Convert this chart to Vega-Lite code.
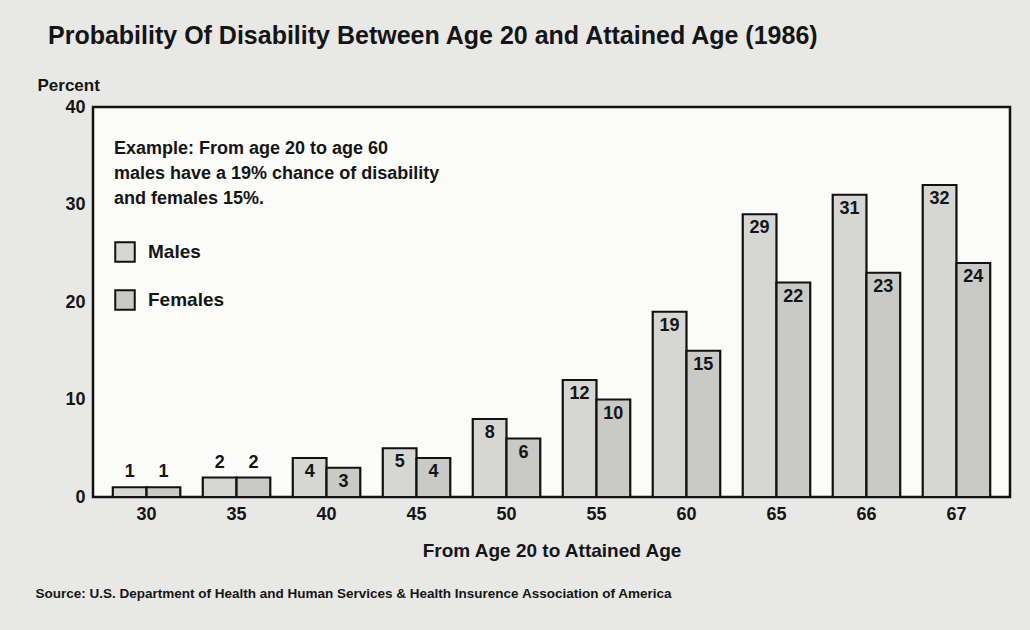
{
  "$schema": "https://vega.github.io/schema/vega-lite/v6.json",
  "width": 917,
  "height": 390,
  "autosize": {"type": "none"},
  "padding": {"left": 93, "top": 107, "right": 20, "bottom": 133},
  "background": "#e8e8e6",
  "config": {
    "view": {"stroke": "#111111", "strokeWidth": 2.5, "fill": "#fbfbfa"},
    "font": "Liberation Sans, Arial",
    "text": {"font": "Liberation Sans, Arial"}
  },
  "title": {
    "text": "Probability Of Disability Between Age 20 and Attained Age (1986)",
    "anchor": "start",
    "frame": "group",
    "dx": -45,
    "offset": 27,
    "fontSize": 25,
    "fontWeight": "bold",
    "color": "#151515"
  },
  "data": {
    "values": [
      {"age": "30", "sex": "Males", "value": 1},
      {"age": "30", "sex": "Females", "value": 1},
      {"age": "35", "sex": "Males", "value": 2},
      {"age": "35", "sex": "Females", "value": 2},
      {"age": "40", "sex": "Males", "value": 4},
      {"age": "40", "sex": "Females", "value": 3},
      {"age": "45", "sex": "Males", "value": 5},
      {"age": "45", "sex": "Females", "value": 4},
      {"age": "50", "sex": "Males", "value": 8},
      {"age": "50", "sex": "Females", "value": 6},
      {"age": "55", "sex": "Males", "value": 12},
      {"age": "55", "sex": "Females", "value": 10},
      {"age": "60", "sex": "Males", "value": 19},
      {"age": "60", "sex": "Females", "value": 15},
      {"age": "65", "sex": "Males", "value": 29},
      {"age": "65", "sex": "Females", "value": 22},
      {"age": "66", "sex": "Males", "value": 31},
      {"age": "66", "sex": "Females", "value": 23},
      {"age": "67", "sex": "Males", "value": 32},
      {"age": "67", "sex": "Females", "value": 24}
    ]
  },
  "encoding": {
    "x": {
      "field": "age",
      "type": "nominal",
      "scale": {"paddingInner": 0.25, "paddingOuter": 0.22},
      "axis": {
        "labelAngle": 0,
        "ticks": false,
        "domain": false,
        "labelPadding": 8,
        "labelFontSize": 18,
        "labelFontWeight": "bold",
        "labelColor": "#151515",
        "title": "From Age 20 to Attained Age",
        "titleFontSize": 19,
        "titleFontWeight": "bold",
        "titleColor": "#151515",
        "titlePadding": 18
      }
    },
    "xOffset": {"field": "sex", "type": "nominal", "sort": ["Males", "Females"], "scale": {"paddingInner": 0}},
    "y": {
      "field": "value",
      "type": "quantitative",
      "scale": {"domain": [0, 40], "nice": false},
      "axis": {
        "values": [0, 10, 20, 30, 40],
        "domain": false,
        "ticks": false,
        "grid": false,
        "labelFontSize": 18,
        "labelFontWeight": "bold",
        "labelColor": "#151515",
        "labelPadding": 8,
        "title": "Percent",
        "titleAngle": 0,
        "titleAlign": "left",
        "titleBaseline": "middle",
        "titleX": -56,
        "titleY": -22,
        "titleFontSize": 17,
        "titleFontWeight": "bold",
        "titleColor": "#151515"
      }
    }
  },
  "layer": [
    {
      "mark": {"type": "bar", "stroke": "#111111", "strokeWidth": 2.2},
      "encoding": {
        "color": {
          "field": "sex",
          "type": "nominal",
          "scale": {"domain": ["Males", "Females"], "range": ["#d6d6d4", "#c9c9c7"]},
          "legend": {
            "orient": "none",
            "legendX": 21,
            "legendY": 33,
            "title": ["Example: From age 20 to age 60", "males have a 19% chance of disability", "and females 15%."],
            "titleFontSize": 18,
            "titleFontWeight": "bold",
            "titleColor": "#151515",
            "titleLineHeight": 25,
            "titleLimit": 500,
            "titlePadding": 33,
            "symbolType": "square",
            "symbolSize": 380,
            "symbolStrokeColor": "#111111",
            "symbolStrokeWidth": 2,
            "symbolOpacity": 1,
            "labelFontSize": 19,
            "labelFontWeight": "bold",
            "labelColor": "#151515",
            "labelOffset": 12,
            "rowPadding": 20
          }
        }
      }
    },
    {
      "transform": [{"filter": "datum.value >= 3"}],
      "mark": {"type": "text", "baseline": "top", "dy": 5, "fontSize": 18, "fontWeight": "bold", "color": "#151515"},
      "encoding": {
        "text": {"field": "value", "type": "quantitative"},
        "x": {
          "field": "age",
          "type": "nominal",
          "scale": {"paddingInner": 0.25, "paddingOuter": 0.22},
          "axis": null
        }
      }
    },
    {
      "transform": [{"filter": "datum.value < 3"}],
      "mark": {"type": "text", "baseline": "bottom", "dy": -6, "fontSize": 18, "fontWeight": "bold", "color": "#151515"},
      "encoding": {
        "text": {"field": "value", "type": "quantitative"},
        "x": {
          "field": "age",
          "type": "nominal",
          "scale": {"paddingInner": 0.25, "paddingOuter": 0.22},
          "axis": {
            "orient": "bottom",
            "labels": false,
            "ticks": false,
            "domain": false,
            "title": "Source: U.S. Department of Health and Human Services & Health Insurence Association of America",
            "titleFontSize": 13.5,
            "titleFontWeight": "bold",
            "titleColor": "#151515",
            "titleAnchor": "start",
            "titleAlign": "left",
            "titleBaseline": "middle",
            "titleX": -58,
            "titleY": 96
          }
        }
      }
    }
  ],
  "resolve": {"axis": {"x": "independent"}}
}
